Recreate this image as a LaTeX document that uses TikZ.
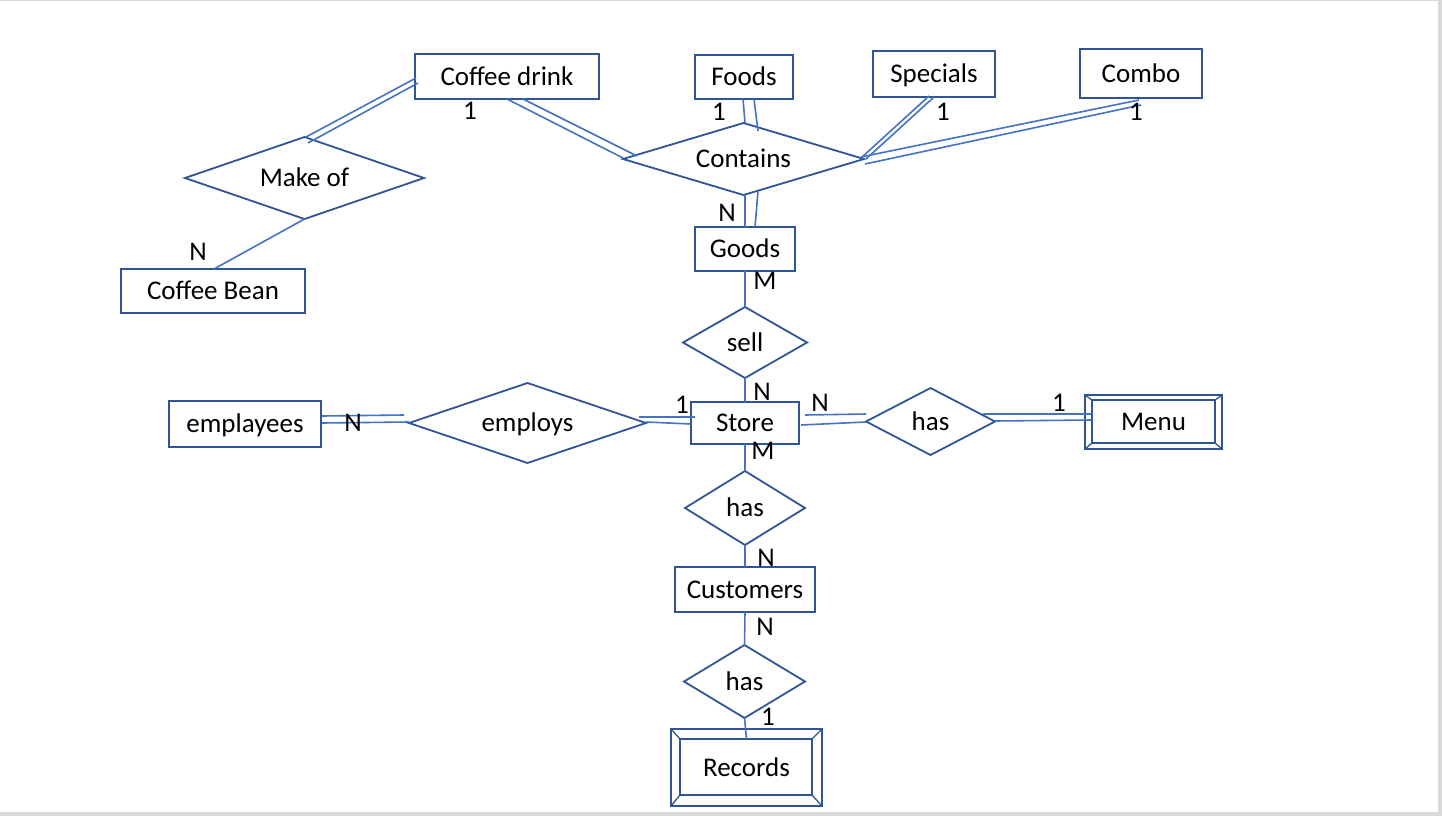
\documentclass[tikz,border=0pt]{standalone}
\usepackage{fontspec}
\setmainfont{Carlito}
\usetikzlibrary{shapes.geometric,calc}
\definecolor{shapeblue}{HTML}{2F5597}
\definecolor{linkblue}{HTML}{4472C4}
\definecolor{framegray}{HTML}{D9D9D9}
\tikzset{
  txt/.style={font=\fontsize{27}{31}\selectfont, text=black, text height=17pt, text depth=0pt, inner sep=0pt, outer sep=0pt},
  ent/.style={txt, draw=shapeblue, line width=1.8pt, rectangle},
  rel/.style={txt, draw=shapeblue, line width=1.8pt, diamond, aspect=3},
  link/.style={draw=linkblue, line width=1.6pt},
  inner/.style={draw=shapeblue, line width=1.3pt},
  card/.style={txt}
}
\begin{document}
\begin{tikzpicture}[x=1pt,y=-1pt]
\useasboundingbox (0,0) rectangle (1442,816);
% frame
\draw[framegray, line width=1pt] (0,0.5) -- (1442,0.5);
\draw[framegray, line width=4pt] (1440,0) -- (1440,814) -- (0,814);

% entities
\node[ent, minimum width=184pt, minimum height=45pt] (cd) at (507,76.5) {Coffee drink};
\node[ent, minimum width=98pt, minimum height=44pt] (foods) at (744,77) {Foods};
\node[ent, minimum width=122pt, minimum height=46pt] (specials) at (934,74) {Specials};
\node[ent, minimum width=122pt, minimum height=49pt] (combo) at (1141,73.5) {Combo};
\node[ent, minimum width=100pt, minimum height=44pt] (goods) at (745,249) {Goods};
\node[ent, minimum width=184pt, minimum height=44pt] (bean) at (213,291) {Coffee Bean};
\node[ent, minimum width=152pt, minimum height=46pt] (emp) at (245,424) {emplayees};
\node[ent, minimum width=108pt, minimum height=42pt] (store) at (745,423) {Store};
\node[ent, minimum width=137pt, minimum height=54pt] (menu) at (1153.5,422) {Menu};
\node[ent, minimum width=140pt, minimum height=45pt] (cust) at (745,589.5) {Customers};
\node[ent, minimum width=151pt, minimum height=77pt] (rec) at (746.5,767.5) {Records};

% weak entity inner borders
\draw[inner] ($(menu.north west)+(7,5)$) rectangle ($(menu.south east)+(-7,-6)$);
\draw[inner] (menu.north west) -- ++(7,5);
\draw[inner] (menu.north east) -- ++(-7,5);
\draw[inner] (menu.south west) -- ++(7,-6);
\draw[inner] (menu.south east) -- ++(-7,-6);
\draw[inner] ($(rec.north west)+(9,10)$) rectangle ($(rec.south east)+(-10,-11)$);
\draw[inner] (rec.north west) -- ++(9,10);
\draw[inner] (rec.north east) -- ++(-10,10);
\draw[inner] (rec.south west) -- ++(9,-11);
\draw[inner] (rec.south east) -- ++(-10,-11);

% relationships
\node[rel, minimum width=239pt, minimum height=82pt] (makeof) at (304.5,178) {Make of};
\node[rel, minimum width=241pt, minimum height=72pt] (contains) at (743.5,159) {Contains};
\node[rel, minimum width=124pt, minimum height=71pt] (sell) at (745,342.5) {sell};
\node[rel, minimum width=237pt, minimum height=80pt] (employs) at (527.5,423) {employs};
\node[rel, minimum width=129pt, minimum height=67pt] (hasR) at (930.5,421.5) {has};
\node[rel, minimum width=120pt, minimum height=74pt] (hasM) at (745,508) {has};
\node[rel, minimum width=121pt, minimum height=73pt] (hasB) at (744.5,681.5) {has};

% connectors
\draw[link] ($(cd.west)+(1,1.5)$) -- ($(makeof.north)+(1.5,0)$);
\draw[link] ($(cd.west)+(3,6.5)$) -- ($(makeof.north)+(3.5,6)$);
\draw[link] (cd.south) -- ($(contains.west)+(0,-1)$);
\draw[link] ($(cd.south)+(16,0)$) -- ($(contains.west)+(14,-3)$);
\draw[link] ($(foods.south)+(-1,0)$) -- ($(contains.north)+(1.5,0)$);
\draw[link] ($(foods.south)+(10,0)$) -- ($(contains.north)+(14.5,8)$);
\draw[link] ($(specials.south)+(-5,-1)$) -- ($(contains.east)+(-3,-1)$);
\draw[link] (specials.south) -- ($(contains.east)+(2,0)$);
\draw[link] ($(combo.south)+(-2,2)$) -- ($(contains.east)+(-3,-2)$);
\draw[link] ($(combo.south)+(0,7)$) -- ($(contains.east)+(1,5)$);
\draw[link] ($(contains.south)+(1.5,0)$) -- (goods.north);
\draw[link] ($(contains.south)+(14.5,-4)$) -- ($(goods.north)+(10,0)$);
\draw[link] (makeof.south) -- ($(bean.north)+(1,0)$);
\draw[link] (goods.south) -- (sell.north);
\draw[link] (sell.south) -- (store.north);
\draw[link] ($(emp.east)+(1,-8)$) -- ($(employs.west)+(-5,-8)$);
\draw[link] ($(emp.east)+(1,-1)$) -- ($(employs.west)+(0,-1)$);
\draw[link] ($(employs.east)+(-7,-6)$) -- ($(store.west)+(4,-6)$);
\draw[link] ($(employs.east)+(0,-1)$) -- ($(store.west)+(0,1)$);
\draw[link] ($(store.east)+(6,-8)$) -- ($(hasR.west)+(0,-7.5)$);
\draw[link] ($(store.east)+(2,2)$) -- ($(hasR.west)+(0,0.5)$);
\draw[link] ($(hasR.east)+(-12,-7.5)$) -- ($(menu.west)+(7,-8)$);
\draw[link] ($(hasR.east)+(0,-0.5)$) -- ($(menu.west)+(7,-2)$);
\draw[link] (store.south) -- (hasM.north);
\draw[link] (hasM.south) -- (cust.north);
\draw[link] (cust.south) -- (hasB.north);
\draw[link] (hasB.south) -- ($(rec.north)+(0,10)$);

% cardinalities
\node[card] (c1) at (470,111) {1};
\node[card] (c2) at (719,112) {1};
\node[card] (c3) at (943,112) {1};
\node[card] (c4) at (1136,112) {1};
\node[card] (c5) at (727,213) {N};
\node[card] (c6) at (198,252) {N};
\node[card] (c7) at (765,281) {M};
\node[card] (c8) at (762,392) {N};
\node[card] (c9) at (682,405) {1};
\node[card] (c10) at (820,403) {N};
\node[card] (c11) at (353,423) {N};
\node[card] (c12) at (1059,403) {1};
\node[card] (c13) at (763,451) {M};
\node[card] (c14) at (766,558) {N};
\node[card] (c15) at (765,627) {N};
\node[card] (c16) at (768,717) {1};
\end{tikzpicture}
\end{document}
